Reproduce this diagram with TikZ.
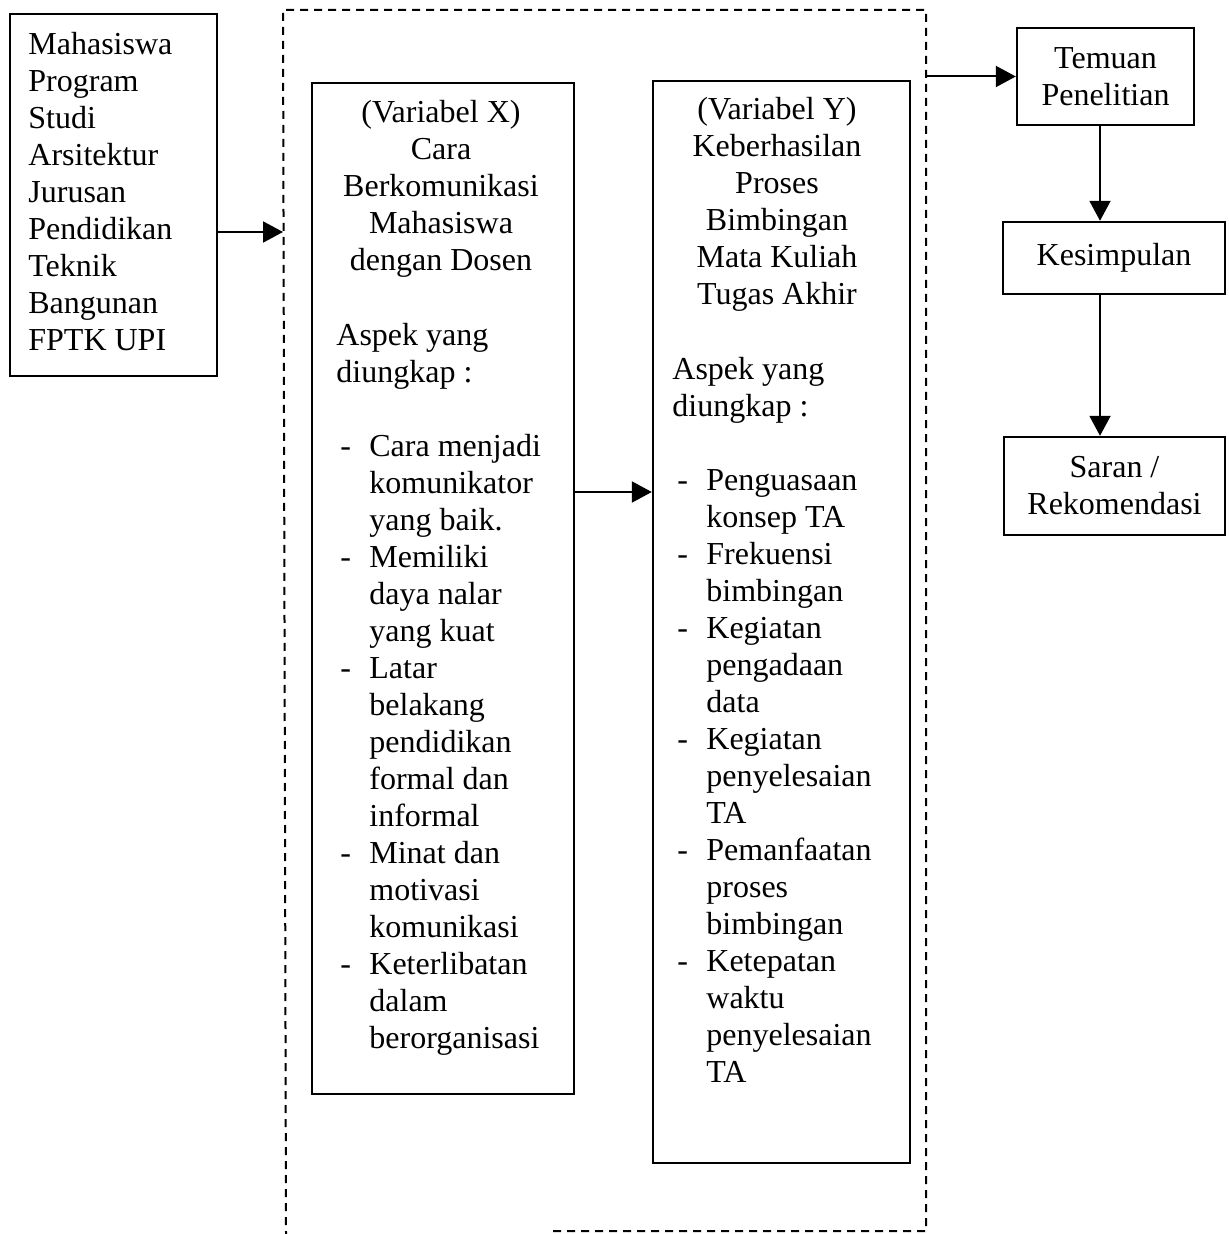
\documentclass[tikz,border=0pt]{standalone}
\usepackage{fontspec}
\setmainfont{Liberation Serif}
\usetikzlibrary{fit,arrows.meta}
\newcommand\dashitem{\makebox[14.5pt][l]{-}}
\newcommand\inditem{\hspace*{14.5pt}}
\begin{document}
\begin{tikzpicture}[x=0.5pt,y=-0.5pt,
  box/.style={draw, line width=1.2pt, inner sep=0pt},
  txt/.style={inner sep=0pt, font=\fontsize{16}{18.5}\selectfont},
  arr/.style={line width=1pt, -{Triangle[length=10pt,width=10.5pt]}},
  frm/.style={line width=1pt, dash pattern=on 4pt off 3pt}]
\useasboundingbox[fill=white] (0,0) rectangle (1228,1234);

% boxes
\node[box, fit={(10,14) (217,376)}] (left) {};
\node[box, fit={(312,83) (574,1094)}] (X) {};
\node[box, fit={(653,81) (910,1163)}] (Y) {};
\node[box, txt, align=center, minimum width=88.5pt, minimum height=48.5pt] (temuan) at (1105.5,76.5) {Temuan\\Penelitian};
\node[box, txt, align=center, minimum width=111pt, minimum height=36pt] (kes) at (1114,258) {Kesimpulan};
\node[box, txt, align=center, minimum width=110.5pt, minimum height=49pt] (saran) at (1114.5,486) {Saran /\\Rekomendasi};

% texts (base anchor = baseline of the last line)
\node[txt, anchor=base west, align=left] (ltxt) at (28,351)
  {Mahasiswa\\Program\\Studi\\Arsitektur\\Jurusan\\Pendidikan\\Teknik\\Bangunan\\FPTK UPI};

\node[txt, anchor=base, align=center] (xhead) at (441,271)
  {(Variabel X)\\Cara\\Berkomunikasi\\Mahasiswa\\dengan Dosen};
\node[txt, anchor=base west, align=left] (xasp) at (336,383) {Aspek yang\\diungkap :};
\node[txt, anchor=base west, align=left] (xlist) at (340,1048)
  {\dashitem Cara menjadi\\ \inditem komunikator\\ \inditem yang baik.\\
   \dashitem Memiliki\\ \inditem daya nalar\\ \inditem yang kuat\\
   \dashitem Latar\\ \inditem belakang\\ \inditem pendidikan\\ \inditem formal dan\\ \inditem informal\\
   \dashitem Minat dan\\ \inditem motivasi\\ \inditem komunikasi\\
   \dashitem Keterlibatan\\ \inditem dalam\\ \inditem berorganisasi};

\node[txt, anchor=base, align=center] (yhead) at (777,305)
  {(Variabel Y)\\Keberhasilan\\Proses\\Bimbingan\\Mata Kuliah\\Tugas Akhir};
\node[txt, anchor=base west, align=left] (yasp) at (672,417) {Aspek yang\\diungkap :};
\node[txt, anchor=base west, align=left] (ylist) at (677,1082)
  {\dashitem Penguasaan\\ \inditem konsep TA\\
   \dashitem Frekuensi\\ \inditem bimbingan\\
   \dashitem Kegiatan\\ \inditem pengadaan\\ \inditem data\\
   \dashitem Kegiatan\\ \inditem penyelesaian\\ \inditem TA\\
   \dashitem Pemanfaatan\\ \inditem proses\\ \inditem bimbingan\\
   \dashitem Ketepatan\\ \inditem waktu\\ \inditem penyelesaian\\ \inditem TA};

% dashed frame
\coordinate (fNW) at (283,10);
\coordinate (fNE) at (926,10);
\coordinate (fSE) at (926,1231);
\coordinate (fSW) at (286,1234);
\coordinate (fB) at (553,1231);
\draw[frm] (fB) -- (fSE) -- (fNE) -- (fNW) -- (fSW);

% connectors
\coordinate (a1) at (0,232);
\coordinate (a2) at (0,492);
\coordinate (a3) at (1100,0);
\draw[arr] (left.east |- a1) -- (fNW |- a1);
\draw[arr] (X.east |- a2) -- (Y.west |- a2);
\draw[arr] (fNE |- temuan.west) -- (temuan.west);
\draw[arr] (a3 |- temuan.south) -- (a3 |- kes.north);
\draw[arr] (a3 |- kes.south) -- (a3 |- saran.north);
\end{tikzpicture}
\end{document}
